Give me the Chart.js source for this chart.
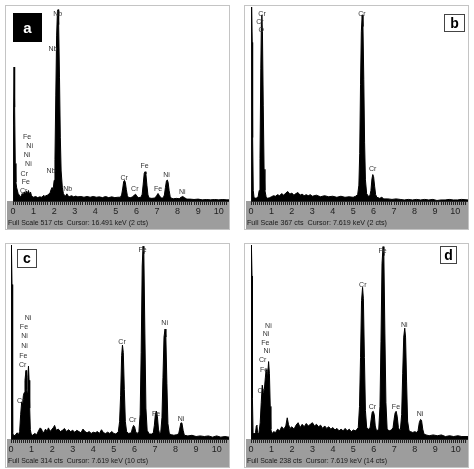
<!DOCTYPE html>
<html>
<head>
<meta charset="utf-8">
<script src="https://cdn.jsdelivr.net/npm/chart.js@4.4.1/dist/chart.umd.min.js"></script>
<style>
  body { margin: 0; background: #fff; }
  #wrap { position: relative; width: 474px; height: 469px; }
  canvas { position: absolute; }
</style>
</head>
<body>
<div id="wrap">
  <canvas id="pa" width="225" height="225" style="left:5px;top:5px"></canvas>
  <canvas id="pb" width="225" height="225" style="left:244px;top:5px"></canvas>
  <canvas id="pc" width="225" height="225" style="left:5px;top:243px"></canvas>
  <canvas id="pd" width="225" height="225" style="left:244px;top:243px"></canvas>
</div>
<script>
// spectrum (a) - energy in keV, counts
const energyA = [0, 0.02, 0.05, 0.08, 0.11, 0.14, 0.18, 0.25, 0.3, 0.35,
  0.4, 0.45, 0.5, 0.55, 0.6, 0.65, 0.7, 0.75, 0.8, 0.85,
  0.9, 0.95, 1.0, 1.1, 1.2, 1.3, 1.4, 1.5, 1.55, 1.6,
  1.7, 1.8, 1.85, 1.9, 1.95, 2.0, 2.04, 2.08, 2.12, 2.16,
  2.19, 2.22, 2.26, 2.3, 2.34, 2.4, 2.45, 2.5, 2.55, 2.62,
  2.68, 2.75, 2.85, 2.95, 3.05, 3.15, 3.3, 3.45, 3.6, 3.75,
  3.9, 4.05, 4.2, 4.35, 4.5, 4.65, 4.8, 4.95, 5.1, 5.22,
  5.28, 5.33, 5.38, 5.42, 5.46, 5.51, 5.56, 5.62, 5.72, 5.82,
  5.9, 5.96, 6.03, 6.1, 6.22, 6.28, 6.33, 6.38, 6.42, 6.46,
  6.51, 6.56, 6.62, 6.75, 6.9, 6.98, 7.05, 7.12, 7.2, 7.3,
  7.36, 7.41, 7.46, 7.5, 7.54, 7.59, 7.64, 7.7, 7.8, 7.95,
  8.08, 8.17, 8.25, 8.33, 8.45, 8.6, 8.8, 9.0, 9.2, 9.4,
  9.6, 9.8, 10.0, 10.2, 10.4, 10.55];
const countsA = [0, 200, 357, 250, 100, 50, 35, 20, 16, 10,
  14, 20, 16, 24, 18, 26, 20, 28, 18, 24,
  14, 12, 10, 12, 9, 11, 10, 15, 12, 14,
  16, 22, 30, 36, 30, 55, 110, 280, 440, 505,
  510, 470, 330, 170, 80, 35, 20, 15, 13, 19,
  13, 12, 14, 11, 13, 11, 12, 10, 12, 10,
  12, 10, 11, 9, 12, 9, 11, 9, 10, 10,
  16, 32, 52, 55, 50, 30, 14, 9, 9, 11,
  16, 18, 12, 9, 10, 18, 45, 74, 78, 72,
  42, 16, 8, 7, 8, 14, 20, 14, 8, 8,
  16, 36, 54, 56, 50, 28, 12, 7, 6, 7,
  6, 10, 12, 9, 5, 5, 4, 5, 3, 4,
  3, 4, 3, 4, 3, 3];

// spectrum (b)
const energyB = [0, 0.02, 0.04, 0.06, 0.08, 0.11, 0.15, 0.25, 0.35, 0.4,
  0.44, 0.48, 0.51, 0.53, 0.56, 0.6, 0.64, 0.68, 0.74, 0.8,
  0.9, 1.0, 1.1, 1.2, 1.3, 1.4, 1.5, 1.6, 1.7, 1.8,
  1.9, 2.0, 2.1, 2.2, 2.3, 2.4, 2.5, 2.6, 2.7, 2.8,
  2.9, 3.0, 3.2, 3.4, 3.6, 3.8, 4.0, 4.2, 4.4, 4.6,
  4.8, 5.0, 5.12, 5.22, 5.28, 5.32, 5.36, 5.4, 5.44, 5.48,
  5.52, 5.56, 5.6, 5.66, 5.74, 5.82, 5.87, 5.92, 5.96, 6.0,
  6.05, 6.1, 6.16, 6.3, 6.4, 6.5, 6.7, 6.9, 7.1, 7.3,
  7.5, 7.7, 7.9, 8.1, 8.3, 8.5, 8.7, 8.9, 9.1, 9.3,
  9.5, 9.7, 9.9, 10.1, 10.3, 10.65];
const countsB = [0, 250, 367, 300, 120, 20, 6, 5, 8, 20,
  80, 250, 340, 352, 320, 180, 60, 20, 8, 5,
  6, 8, 10, 9, 12, 10, 14, 11, 15, 18,
  13, 15, 11, 14, 16, 11, 13, 10, 12, 10,
  12, 9, 11, 8, 10, 8, 9, 7, 9, 7,
  8, 7, 9, 12, 30, 90, 220, 320, 352, 330,
  230, 110, 40, 14, 9, 10, 20, 42, 50, 46,
  28, 12, 7, 5, 7, 4, 4, 3, 4, 3,
  2, 3, 2, 3, 2, 3, 2, 3, 1, 2,
  2, 3, 2, 2, 3, 2];

// spectrum (c)
const energyC = [0, 0.01, 0.03, 0.05, 0.07, 0.09, 0.13, 0.2, 0.3, 0.35,
  0.42, 0.47, 0.52, 0.56, 0.6, 0.64, 0.68, 0.71, 0.73, 0.76,
  0.79, 0.82, 0.85, 0.88, 0.91, 0.94, 0.98, 1.05, 1.15, 1.25,
  1.35, 1.42, 1.48, 1.55, 1.62, 1.68, 1.75, 1.82, 1.9, 1.97,
  2.05, 2.12, 2.2, 2.3, 2.4, 2.5, 2.6, 2.7, 2.8, 2.9,
  3.0, 3.1, 3.2, 3.3, 3.4, 3.5, 3.6, 3.7, 3.8, 3.9,
  4.0, 4.1, 4.2, 4.3, 4.4, 4.5, 4.6, 4.7, 4.8, 4.9,
  5.0, 5.1, 5.22, 5.28, 5.33, 5.38, 5.42, 5.46, 5.51, 5.56,
  5.62, 5.72, 5.85, 5.9, 5.96, 6.01, 6.07, 6.14, 6.22, 6.28,
  6.33, 6.38, 6.42, 6.46, 6.51, 6.56, 6.62, 6.72, 6.84, 6.92,
  6.97, 7.02, 7.07, 7.12, 7.17, 7.22, 7.28, 7.34, 7.39, 7.44,
  7.49, 7.53, 7.58, 7.63, 7.7, 7.8, 7.92, 8.05, 8.15, 8.2,
  8.26, 8.31, 8.37, 8.43, 8.6, 8.8, 9.0, 9.2, 9.4, 9.6,
  9.8, 10.0, 10.2, 10.4, 10.6];
const countsC = [0, 200, 314, 250, 60, 10, 5, 6, 10, 6,
  12, 40, 60, 55, 70, 75, 95, 105, 111, 80,
  75, 100, 118, 95, 50, 15, 8, 6, 9, 7,
  14, 18, 16, 10, 12, 16, 12, 18, 12, 15,
  18, 22, 14, 16, 12, 14, 17, 12, 15, 12,
  14, 11, 14, 12, 10, 16, 12, 10, 12, 9,
  11, 10, 12, 9, 15, 10, 9, 11, 9, 12,
  9, 8, 12, 28, 70, 135, 152, 140, 80, 28,
  12, 9, 10, 17, 22, 20, 11, 9, 12, 40,
  140, 280, 312, 300, 170, 50, 14, 8, 8, 10,
  22, 40, 45, 36, 16, 9, 10, 35, 100, 165,
  178, 165, 90, 25, 8, 7, 6, 7, 8, 16,
  26, 26, 14, 6, 5, 6, 4, 5, 4, 5,
  3, 5, 3, 4, 3];

// spectrum (d)
const energyD = [0, 0.01, 0.03, 0.05, 0.07, 0.1, 0.15, 0.22, 0.26, 0.29,
  0.32, 0.38, 0.45, 0.5, 0.55, 0.6, 0.65, 0.7, 0.74, 0.78,
  0.82, 0.86, 0.9, 0.94, 0.97, 1.02, 1.1, 1.2, 1.3, 1.4,
  1.5, 1.6, 1.7, 1.77, 1.83, 1.9, 2.0, 2.1, 2.2, 2.3,
  2.4, 2.5, 2.6, 2.7, 2.8, 2.9, 3.0, 3.1, 3.2, 3.3,
  3.4, 3.5, 3.6, 3.7, 3.8, 3.9, 4.0, 4.1, 4.2, 4.3,
  4.4, 4.5, 4.6, 4.7, 4.8, 4.9, 5.0, 5.1, 5.18, 5.24,
  5.3, 5.35, 5.4, 5.45, 5.49, 5.54, 5.59, 5.65, 5.74, 5.82,
  5.87, 5.92, 5.97, 6.02, 6.07, 6.13, 6.19, 6.24, 6.3, 6.35,
  6.4, 6.45, 6.49, 6.54, 6.59, 6.65, 6.75, 6.86, 6.94, 6.99,
  7.04, 7.09, 7.14, 7.2, 7.25, 7.3, 7.36, 7.41, 7.46, 7.51,
  7.55, 7.6, 7.65, 7.72, 7.8, 7.9, 8.0, 8.1, 8.16, 8.22,
  8.28, 8.33, 8.39, 8.45, 8.55, 8.7, 8.9, 9.1, 9.3, 9.5,
  9.7, 9.9, 10.1, 10.3, 10.6];
const countsD = [0, 160, 238, 200, 50, 8, 6, 8, 16, 17,
  8, 6, 20, 45, 66, 58, 60, 75, 85, 70,
  80, 95, 80, 40, 12, 6, 9, 8, 12, 10,
  15, 12, 16, 26, 18, 13, 15, 12, 17, 20,
  14, 18, 15, 19, 16, 18, 20, 16, 18, 15,
  17, 13, 16, 13, 15, 12, 14, 11, 13, 10,
  12, 10, 13, 10, 12, 9, 11, 10, 12, 14,
  40, 100, 170, 186, 172, 100, 35, 14, 12, 14,
  24, 33, 34, 30, 16, 10, 11, 12, 40, 120,
  215, 236, 225, 130, 45, 12, 10, 11, 14, 24,
  32, 34, 28, 14, 11, 12, 30, 80, 125, 136,
  125, 70, 22, 10, 9, 8, 9, 8, 10, 20,
  24, 23, 12, 6, 5, 4, 5, 4, 5, 3,
  4, 3, 4, 3, 3];

// full scale (cts) and footer text per panel
const fullScale = [517, 367, 314, 238];
const footers = [
  'Full Scale 517 cts  Cursor: 16.491 keV (2 cts)',
  'Full Scale 367 cts  Cursor: 7.619 keV (2 cts)',
  'Full Scale 314 cts  Cursor: 7.619 keV (10 cts)',
  'Full Scale 238 cts  Cursor: 7.619 keV (14 cts)'
];

// peak labels: [text, keV, cts]
const labelsA = [['Nb', 2.17, 497], ['Nb', 1.94, 406], ['Fe', 0.68, 171], ['Ni', 0.81, 146], ['Ni', 0.68, 122], ['Ni', 0.75, 98], ['Cr', 0.55, 73], ['Fe', 0.62, 50], ['Cr', 0.52, 27], ['Nb', 1.85, 81], ['Nb', 2.66, 32], ['Cr', 5.4, 62], ['Cr', 5.92, 31], ['Fe', 6.4, 93], ['Fe', 7.05, 33], ['Ni', 7.46, 69], ['Ni', 8.23, 25]];
const labelsB = [['Cr', 0.54, 353], ['Cr', 0.44, 338], ['O', 0.5, 323], ['Cr', 5.43, 353], ['Cr', 5.95, 61]];
const labelsC = [['Fe', 6.4, 306], ['Ni', 0.83, 195], ['Fe', 0.63, 181], ['Ni', 0.66, 166], ['Ni', 0.66, 151], ['Fe', 0.6, 135], ['Cr', 0.57, 120], ['Cr', 0.47, 61], ['Cr', 5.4, 157], ['Ni', 7.47, 188], ['Cr', 5.92, 31], ['Fe', 7.05, 41], ['Ni', 8.27, 33]];
const labelsD = [['Fe', 6.43, 231], ['Cr', 5.46, 189], ['Ni', 0.85, 139], ['Ni', 0.73, 129], ['Fe', 0.7, 118], ['Ni', 0.77, 108], ['Cr', 0.57, 97], ['Fe', 0.64, 85], ['Cr', 0.5, 59], ['Cr', 5.93, 39], ['Fe', 7.08, 39], ['Ni', 7.49, 140], ['Ni', 8.26, 30]];

const panels = [
  { id: 'pa', letter: 'a', e: energyA, c: countsA, labels: labelsA, padLeft: 8, maxKeV: 10.5, box: [8, 8, 29, 29], dark: true },
  { id: 'pb', letter: 'b', e: energyB, c: countsB, labels: labelsB, padLeft: 7, maxKeV: 10.62, box: [200, 9, 21, 18], dark: false },
  { id: 'pc', letter: 'c', e: energyC, c: countsC, labels: labelsC, padLeft: 6, maxKeV: 10.6, box: [12, 6, 20, 19], dark: false },
  { id: 'pd', letter: 'd', e: energyD, c: countsD, labels: labelsD, padLeft: 7, maxKeV: 10.6, box: [196, 3, 17, 18], dark: false }
];

const spectrumDeco = {
  id: 'spectrumDeco',
  beforeDraw(chart) {
    const ctx = chart.ctx, w = chart.width, h = chart.height, a = chart.chartArea;
    ctx.save();
    ctx.fillStyle = '#fff';
    ctx.fillRect(0, 0, w, h);
    ctx.fillStyle = '#9d9d9d';
    ctx.fillRect(2, a.bottom, w - 3, h - a.bottom - 1);
    ctx.restore();
  },
  afterDraw(chart, args, opts) {
    const ctx = chart.ctx, w = chart.width, h = chart.height;
    const xs = chart.scales.x, ys = chart.scales.y;
    ctx.save();
    // element labels
    ctx.font = '7px "Liberation Sans", Arial, sans-serif';
    ctx.fillStyle = '#333';
    ctx.textAlign = 'center';
    ctx.textBaseline = 'middle';
    opts.labels.forEach(l => {
      ctx.fillText(l[0], xs.getPixelForValue(l[1]), ys.getPixelForValue(l[2]));
    });
    // footer
    ctx.font = '8px "Liberation Sans", Arial, sans-serif';
    ctx.fillStyle = '#1a1a1a';
    ctx.textAlign = 'left';
    ctx.fillText(opts.footer, 3, h - 7, 140);
    // frame
    ctx.strokeStyle = '#c4c4c4';
    ctx.lineWidth = 1;
    ctx.strokeRect(0.5, 0.5, w - 1, h - 1);
    // panel letter
    const b = opts.box;
    ctx.fillStyle = opts.dark ? '#000' : '#fff';
    ctx.fillRect(b[0], b[1], b[2], b[3]);
    if (!opts.dark) {
      ctx.strokeStyle = '#444';
      ctx.strokeRect(b[0] + 0.5, b[1] + 0.5, b[2] - 1, b[3] - 1);
    }
    ctx.fillStyle = opts.dark ? '#fff' : '#000';
    ctx.font = 'bold ' + (opts.dark ? 15 : 14) + 'px "Liberation Sans", Arial, sans-serif';
    ctx.textAlign = 'center';
    ctx.fillText(opts.letter, b[0] + b[2] / 2, b[1] + b[3] / 2 + 1);
    ctx.restore();
  }
};

panels.forEach((p, i) => {
  const pts = p.e.map((e, k) => ({ x: e, y: p.c[k] }));
  new Chart(document.getElementById(p.id), {
    type: 'line',
    data: {
      datasets: [{
        data: pts,
        borderColor: '#000',
        backgroundColor: '#000',
        borderWidth: 1,
        pointRadius: 0,
        tension: 0,
        fill: 'origin'
      }]
    },
    options: {
      responsive: false,
      animation: false,
      events: [],
      layout: { padding: { left: p.padLeft, right: 1, top: 2, bottom: 0 } },
      plugins: {
        legend: { display: false },
        tooltip: { enabled: false },
        spectrumDeco: { labels: p.labels, footer: footers[i], box: p.box, dark: p.dark, letter: p.letter }
      },
      scales: {
        x: {
          type: 'linear',
          min: 0,
          max: p.maxKeV,
          afterFit: s => { s.height = 29; },
          border: { display: true, color: '#222', width: 1 },
          grid: {
            drawOnChartArea: false,
            drawTicks: true,
            tickLength: 4,
            color: '#222'
          },
          ticks: {
            stepSize: 0.1,
            autoSkip: false,
            maxRotation: 0,
            padding: 1,
            color: '#222',
            font: { size: 9, family: '"Liberation Sans", Arial, sans-serif' },
            callback: v => Math.abs(v - Math.round(v)) < 0.001 ? String(Math.round(v)) : ''
          }
        },
        y: {
          display: false,
          min: 0,
          max: fullScale[i]
        }
      }
    },
    plugins: [spectrumDeco]
  });
});
</script>
</body>
</html>
